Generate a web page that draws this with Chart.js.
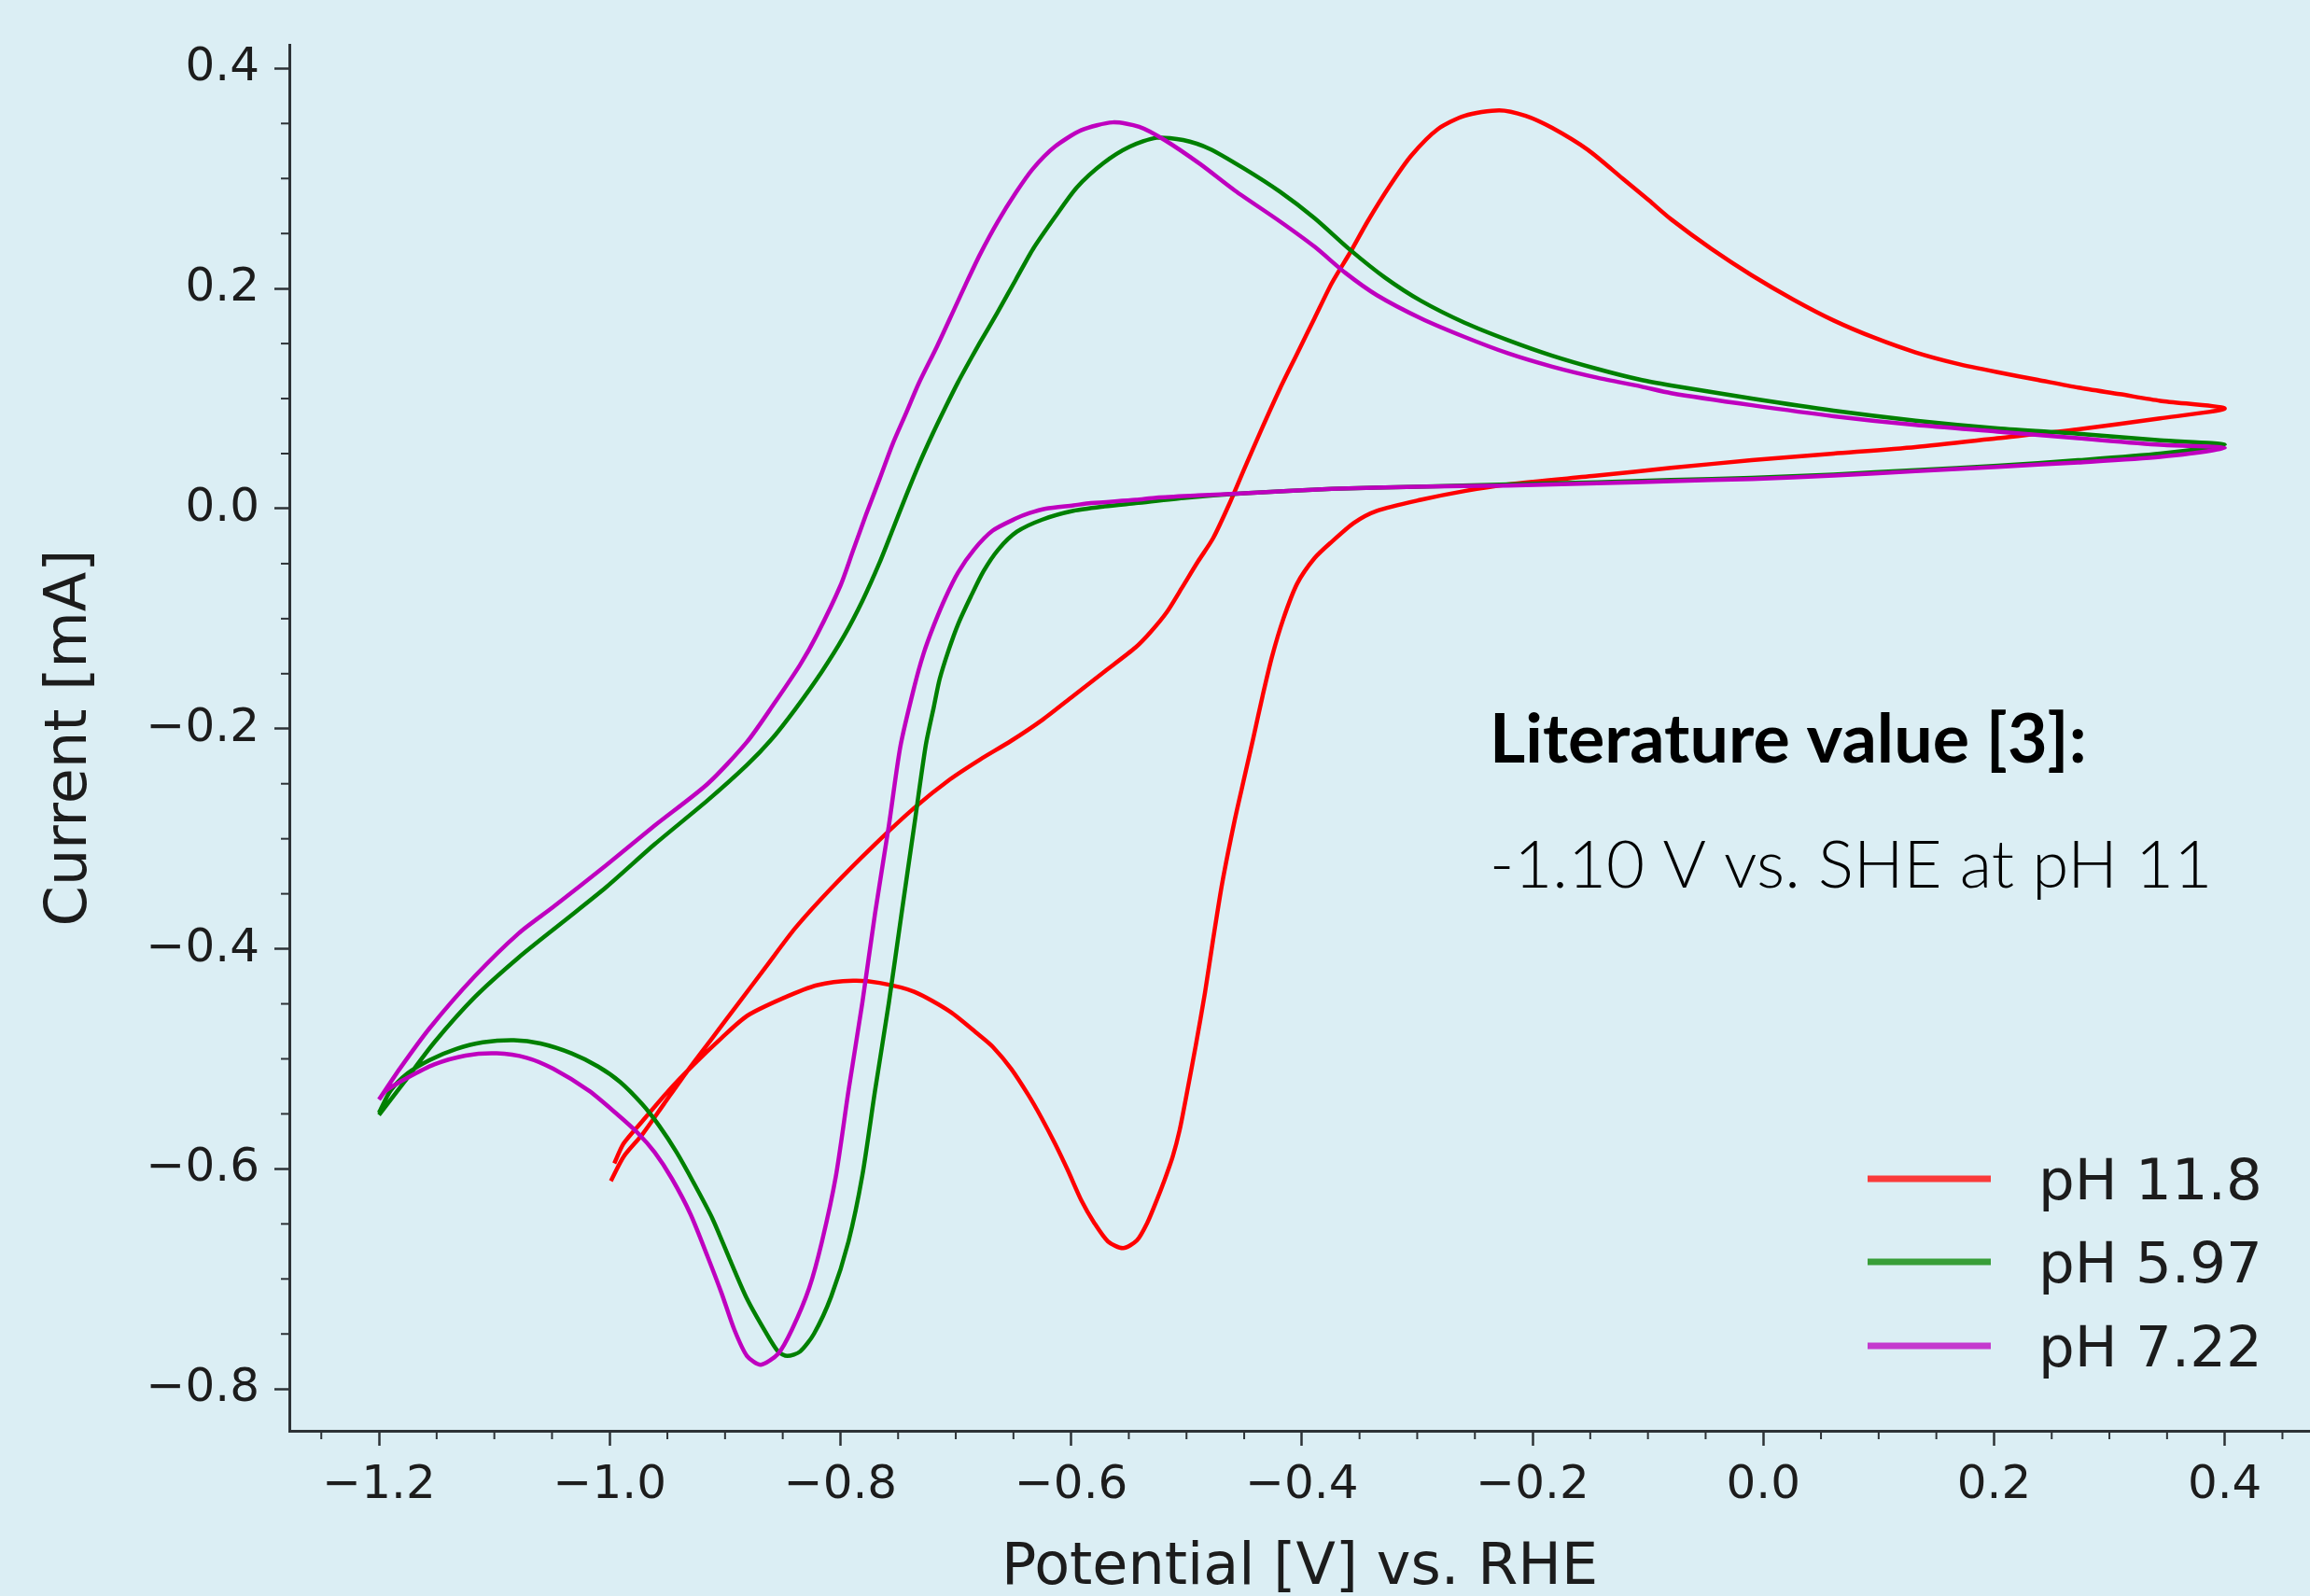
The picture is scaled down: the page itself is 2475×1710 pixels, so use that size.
<!DOCTYPE html>
<html>
<head>
<meta charset="utf-8">
<script src="https://cdn.jsdelivr.net/npm/chart.js@4.4.0/dist/chart.umd.min.js"></script>
<style>
  html, body { margin: 0; padding: 0; background: #dbeef4; }
  #wrap { width: 2475px; height: 1710px; }
</style>
</head>
<body>
<div id="wrap"><canvas id="cvChart" width="2475" height="1710"></canvas></div>
<script>
// axis ticks
var xTicks = [-1.2, -1.0, -0.8, -0.6, -0.4, -0.2, 0.0, 0.2, 0.4];
var yTicks = [-0.8, -0.6, -0.4, -0.2, 0.0, 0.2, 0.4];

var seriesNames = ["pH 11.8", "pH 5.97", "pH 7.22"];

// pH 11.8 - forward sweep from -1.0 V up to 0.4 V
var redFwdE = [-0.999, -0.988, -0.972, -0.953, -0.934, -0.911, -0.888, -0.865, -0.839, -0.808, -0.770, -0.736, -0.705, -0.679, -0.652, -0.625, -0.598, -0.571, -0.544, -0.531, -0.517, -0.504, -0.490, -0.477, -0.463, -0.450, -0.435, -0.419, -0.404, -0.389, -0.374, -0.358, -0.343, -0.324, -0.305, -0.282, -0.259, -0.229, -0.206, -0.183, -0.152, -0.122, -0.099, -0.080, -0.045, -0.010, 0.026, 0.061, 0.097, 0.132, 0.167, 0.203, 0.238, 0.273, 0.309, 0.344, 0.400];
var redFwdI = [-0.611, -0.589, -0.569, -0.541, -0.513, -0.481, -0.449, -0.417, -0.381, -0.345, -0.305, -0.272, -0.246, -0.228, -0.211, -0.192, -0.170, -0.148, -0.126, -0.112, -0.094, -0.072, -0.048, -0.027, 0.004, 0.036, 0.072, 0.109, 0.141, 0.173, 0.205, 0.233, 0.261, 0.293, 0.321, 0.345, 0.357, 0.362, 0.357, 0.346, 0.326, 0.300, 0.280, 0.263, 0.236, 0.212, 0.190, 0.171, 0.155, 0.142, 0.132, 0.124, 0.117, 0.110, 0.104, 0.098, 0.091];
// pH 11.8 - reverse sweep back to -1.0 V
var redRevE = [0.344, 0.273, 0.203, 0.132, 0.061, -0.010, -0.080, -0.144, -0.221, -0.259, -0.297, -0.335, -0.355, -0.374, -0.389, -0.404, -0.416, -0.426, -0.434, -0.442, -0.450, -0.458, -0.469, -0.477, -0.484, -0.492, -0.500, -0.506, -0.512, -0.519, -0.526, -0.534, -0.543, -0.555, -0.568, -0.580, -0.591, -0.603, -0.614, -0.626, -0.637, -0.652, -0.668, -0.679, -0.705, -0.736, -0.766, -0.789, -0.820, -0.850, -0.881, -0.903, -0.927, -0.949, -0.972, -0.988, -0.996];
var redRevI = [0.082, 0.072, 0.064, 0.056, 0.050, 0.044, 0.037, 0.030, 0.022, 0.016, 0.008, -0.002, -0.013, -0.030, -0.045, -0.068, -0.100, -0.135, -0.170, -0.208, -0.245, -0.282, -0.340, -0.392, -0.440, -0.488, -0.533, -0.565, -0.589, -0.610, -0.629, -0.649, -0.665, -0.672, -0.666, -0.649, -0.629, -0.601, -0.577, -0.553, -0.533, -0.509, -0.489, -0.479, -0.457, -0.439, -0.431, -0.429, -0.433, -0.445, -0.461, -0.481, -0.505, -0.529, -0.557, -0.577, -0.595];

// pH 5.97
var greenFwdE = [-1.200, -1.178, -1.152, -1.117, -1.079, -1.041, -1.003, -0.961, -0.915, -0.881, -0.860, -0.839, -0.816, -0.797, -0.781, -0.766, -0.755, -0.743, -0.732, -0.720, -0.709, -0.698, -0.686, -0.679, -0.664, -0.648, -0.633, -0.614, -0.595, -0.572, -0.549, -0.526, -0.503, -0.480, -0.450, -0.419, -0.389, -0.358, -0.328, -0.297, -0.259, -0.221, -0.183, -0.144, -0.106, -0.080, -0.010, 0.061, 0.132, 0.203, 0.273, 0.344, 0.400];
var greenFwdI = [-0.551, -0.521, -0.485, -0.444, -0.408, -0.376, -0.344, -0.305, -0.265, -0.233, -0.210, -0.182, -0.148, -0.116, -0.084, -0.049, -0.020, 0.012, 0.040, 0.068, 0.092, 0.115, 0.138, 0.151, 0.178, 0.208, 0.236, 0.265, 0.292, 0.314, 0.329, 0.337, 0.335, 0.327, 0.309, 0.288, 0.264, 0.235, 0.210, 0.189, 0.169, 0.153, 0.139, 0.127, 0.117, 0.112, 0.100, 0.089, 0.080, 0.073, 0.068, 0.062, 0.058];
var greenRevE = [0.344, 0.273, 0.203, 0.132, 0.061, -0.010, -0.080, -0.144, -0.221, -0.300, -0.374, -0.450, -0.500, -0.544, -0.571, -0.598, -0.625, -0.647, -0.663, -0.676, -0.687, -0.698, -0.706, -0.714, -0.719, -0.726, -0.736, -0.747, -0.758, -0.770, -0.781, -0.793, -0.808, -0.823, -0.835, -0.846, -0.854, -0.865, -0.881, -0.896, -0.911, -0.927, -0.942, -0.957, -0.972, -0.991, -1.010, -1.033, -1.060, -1.083, -1.110, -1.133, -1.156, -1.175, -1.190, -1.200];
var greenRevI = [0.050, 0.044, 0.039, 0.035, 0.031, 0.028, 0.026, 0.024, 0.022, 0.020, 0.018, 0.014, 0.010, 0.005, 0.002, -0.002, -0.010, -0.021, -0.037, -0.057, -0.080, -0.105, -0.128, -0.155, -0.180, -0.215, -0.288, -0.368, -0.449, -0.529, -0.606, -0.666, -0.716, -0.750, -0.766, -0.770, -0.766, -0.748, -0.718, -0.682, -0.645, -0.613, -0.585, -0.561, -0.541, -0.521, -0.507, -0.495, -0.486, -0.483, -0.485, -0.491, -0.501, -0.513, -0.529, -0.549];

// pH 7.22
var magFwdE = [-1.200, -1.182, -1.156, -1.117, -1.079, -1.049, -1.003, -0.961, -0.915, -0.881, -0.858, -0.835, -0.820, -0.800, -0.789, -0.778, -0.766, -0.755, -0.743, -0.732, -0.716, -0.701, -0.690, -0.679, -0.664, -0.648, -0.633, -0.614, -0.591, -0.564, -0.541, -0.519, -0.488, -0.458, -0.419, -0.389, -0.362, -0.335, -0.297, -0.259, -0.221, -0.183, -0.144, -0.106, -0.080, -0.010, 0.061, 0.132, 0.203, 0.273, 0.344, 0.400];
var magFwdI = [-0.537, -0.509, -0.472, -0.425, -0.386, -0.362, -0.324, -0.288, -0.250, -0.212, -0.178, -0.142, -0.114, -0.070, -0.038, -0.006, 0.027, 0.058, 0.087, 0.114, 0.148, 0.182, 0.207, 0.231, 0.260, 0.287, 0.309, 0.329, 0.344, 0.351, 0.347, 0.335, 0.313, 0.289, 0.261, 0.238, 0.214, 0.194, 0.173, 0.156, 0.141, 0.129, 0.119, 0.111, 0.105, 0.094, 0.084, 0.076, 0.070, 0.064, 0.058, 0.055];
var magRevE = [0.344, 0.273, 0.203, 0.132, 0.061, -0.010, -0.080, -0.144, -0.221, -0.300, -0.374, -0.450, -0.490, -0.526, -0.544, -0.583, -0.598, -0.622, -0.636, -0.648, -0.668, -0.684, -0.698, -0.709, -0.719, -0.728, -0.736, -0.748, -0.758, -0.770, -0.781, -0.793, -0.804, -0.816, -0.827, -0.842, -0.854, -0.869, -0.881, -0.892, -0.903, -0.915, -0.930, -0.946, -0.961, -0.976, -0.995, -1.018, -1.049, -1.072, -1.098, -1.125, -1.152, -1.175, -1.194, -1.200];
var magRevI = [0.047, 0.042, 0.038, 0.034, 0.030, 0.027, 0.025, 0.023, 0.021, 0.020, 0.018, 0.014, 0.012, 0.010, 0.008, 0.005, 0.003, 0.000, -0.004, -0.009, -0.020, -0.037, -0.058, -0.081, -0.106, -0.132, -0.162, -0.216, -0.288, -0.368, -0.449, -0.529, -0.607, -0.666, -0.708, -0.746, -0.768, -0.778, -0.770, -0.746, -0.713, -0.680, -0.641, -0.609, -0.585, -0.567, -0.549, -0.529, -0.509, -0.499, -0.495, -0.497, -0.505, -0.517, -0.529, -0.537];

var lineColors = ["#ff0000", "#008000", "#bf00bf"];
var legendColors = ["rgb(250, 58, 58)", "rgb(56, 158, 56)", "rgb(196, 58, 206)"];
var axisColor = "#2d3236";
var textColor = "#1c1c1c";

function toPoints(eArr, iArr) {
  var pts = [];
  for (var i = 0; i < eArr.length; i++) pts.push({ x: eArr[i], y: iArr[i] });
  return pts;
}

function fmt(v) {
  return (v < -1e-9 ? "\u2212" : "") + Math.abs(v).toFixed(1);
}

var background = {
  id: "background",
  beforeDraw: function (chart) {
    var c = chart.ctx;
    c.save();
    c.fillStyle = "#dbeef4";
    c.fillRect(0, 0, chart.width, chart.height);
    c.restore();
  }
};

// matplotlib style minor ticks every 0.05
var minorTicks = {
  id: "minorTicks",
  afterDraw: function (chart) {
    var c = chart.ctx, a = chart.chartArea;
    var xs = chart.scales.x, ys = chart.scales.y;
    c.save();
    c.strokeStyle = axisColor;
    c.lineWidth = 2;
    for (var k = -26; k <= 9; k++) {
      if (k % 4 === 0) continue;
      var v = k * 0.05;
      if (v < xs.min || v > xs.max) continue;
      var px = xs.getPixelForValue(v);
      c.beginPath(); c.moveTo(px, a.bottom); c.lineTo(px, a.bottom + 9); c.stroke();
    }
    for (var j = -17; j <= 9; j++) {
      if (j % 4 === 0) continue;
      var w = j * 0.05;
      if (w < ys.min || w > ys.max) continue;
      var py = ys.getPixelForValue(w);
      c.beginPath(); c.moveTo(a.left, py); c.lineTo(a.left - 9, py); c.stroke();
    }
    c.restore();
  }
};

var legendBox = {
  id: "legendBox",
  afterDraw: function (chart) {
    var c = chart.ctx, a = chart.chartArea;
    c.save();
    c.font = "61px 'DejaVu Sans'";
    c.textBaseline = "alphabetic";
    c.textAlign = "left";
    var rows = [a.bottom - 270, a.bottom - 181, a.bottom - 91];
    for (var i = 0; i < seriesNames.length; i++) {
      c.strokeStyle = legendColors[i];
      c.lineWidth = 7;
      c.beginPath();
      c.moveTo(a.right - 474, rows[i]);
      c.lineTo(a.right - 342, rows[i]);
      c.stroke();
      c.fillStyle = textColor;
      c.fillText(seriesNames[i], a.right - 291, rows[i] + 22);
    }
    c.restore();
  }
};

var note = {
  id: "note",
  afterDraw: function (chart) {
    var c = chart.ctx;
    c.save();
    c.fillStyle = "#000";
    c.textAlign = "left";
    c.textBaseline = "alphabetic";
    var t1 = "Literature value [3]:";
    var t2 = "-1.10 V vs. SHE at pH 11";
    c.font = "700 70px Lato";
    var s1 = 70 * 640 / c.measureText(t1).width;
    c.font = "700 " + s1.toFixed(1) + "px Lato";
    c.fillText(t1, 1596, 817);
    c.font = "300 70px Lato";
    var s2 = 70 * 774 / c.measureText(t2).width;
    c.font = "300 " + s2.toFixed(1) + "px Lato";
    c.fillText(t2, 1596, 951);
    c.restore();
  }
};

function lineSet(idx, pts, ord) {
  return {
    label: seriesNames[idx],
    data: pts,
    showLine: true,
    borderColor: lineColors[idx],
    backgroundColor: lineColors[idx],
    borderWidth: 4.5,
    pointRadius: 0,
    tension: 0.25,
    fill: false,
    order: ord
  };
}

var tickFont = { family: "'DejaVu Sans'", size: 50 };
var xTitleFont = { family: "'DejaVu Sans'", size: 62, lineHeight: 0.95 };
var yTitleFont = { family: "'DejaVu Sans'", size: 62 };

var ctx = document.getElementById("cvChart").getContext("2d");
var myChart = new Chart(ctx, {
  type: "scatter",
  data: {
    datasets: [
      lineSet(0, toPoints(redFwdE.concat(redRevE), redFwdI.concat(redRevI)), 2),
      lineSet(1, toPoints(greenFwdE.concat(greenRevE), greenFwdI.concat(greenRevI)), 1),
      lineSet(2, toPoints(magFwdE.concat(magRevE), magFwdI.concat(magRevI)), 0)
    ]
  },
  options: {
    responsive: false,
    animation: false,
    layout: { padding: { top: 48, left: 0, right: 0, bottom: 0 } },
    plugins: { legend: { display: false }, tooltip: { enabled: false } },
    scales: {
      x: {
        type: "linear",
        position: "bottom",
        min: -1.2777,
        max: 0.4739,
        afterBuildTicks: function (s) { s.ticks = xTicks.map(function (v) { return { value: v }; }); },
        afterFit: function (s) { s.height = 177; },
        ticks: { font: tickFont, color: textColor, padding: 13, maxRotation: 0, autoSkip: false, callback: fmt },
        grid: { drawOnChartArea: false, drawTicks: true, tickLength: 16, tickWidth: 2.5, tickColor: axisColor },
        border: { display: true, color: axisColor, width: 3 },
        title: { display: true, text: "Potential [V] vs. RHE", font: xTitleFont, color: textColor, padding: { top: 0, bottom: 0 } }
      },
      y: {
        type: "linear",
        min: -0.838,
        max: 0.4215,
        afterBuildTicks: function (s) { s.ticks = yTicks.map(function (v) { return { value: v }; }); },
        afterFit: function (s) { s.width = 310; },
        ticks: { font: tickFont, color: textColor, padding: 16, autoSkip: false, callback: fmt },
        grid: { drawOnChartArea: false, drawTicks: true, tickLength: 16, tickWidth: 2.5, tickColor: axisColor },
        border: { display: true, color: axisColor, width: 3 },
        title: { display: true, text: "Current [mA]", font: yTitleFont, color: textColor, padding: { top: 39, bottom: 0 } }
      }
    }
  },
  plugins: [background, minorTicks, legendBox, note]
});
</script>
</body>
</html>
